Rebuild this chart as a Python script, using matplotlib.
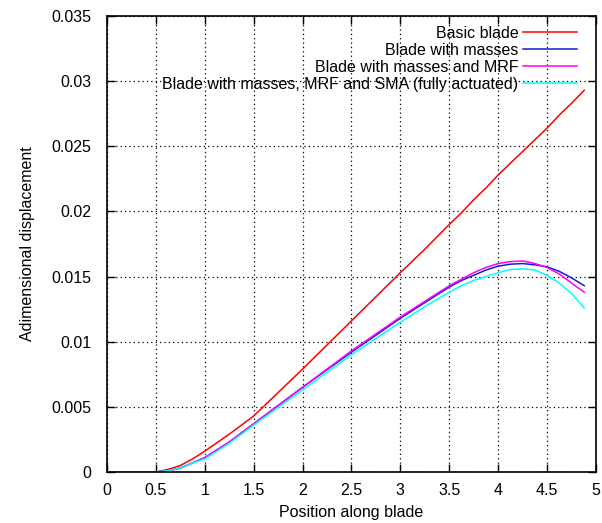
import numpy as np
import matplotlib
matplotlib.use('Agg')
import matplotlib.pyplot as plt
from matplotlib.ticker import MultipleLocator, FuncFormatter

plt.rcParams['font.family'] = ['Liberation Sans', 'DejaVu Sans']

# positions along blade
pos = [0, 0.25, 0.5, 0.625, 0.75, 0.875, 1.0, 1.25, 1.5, 2.0, 2.5, 3.0, 3.25, 3.5, 3.625, 3.75,
       3.875, 4.0, 4.125, 4.25, 4.375, 4.5, 4.625, 4.75, 4.88]

basic = [0, 0, 0, 0.0002, 0.0005, 0.0010, 0.0016, 0.0029, 0.0043, 0.0079, 0.0116, 0.0153, 0.0171,
         0.0190, 0.0199, 0.0209, 0.0218, 0.0228, 0.0237, 0.0246, 0.0255, 0.0264, 0.0274, 0.0283, 0.0293]
masses = [0, 0, 0, 0.0001, 0.0003, 0.0007, 0.0011, 0.0023, 0.0037, 0.0065, 0.0092, 0.0118, 0.0130,
          0.0142, 0.0147, 0.0151, 0.0155, 0.0158, 0.01595, 0.0160, 0.0159, 0.01575, 0.0154, 0.0149, 0.0143]
masses_mrf = [0, 0, 0, 0.0001, 0.0003, 0.0007, 0.0011, 0.0023, 0.0037, 0.0065, 0.0093, 0.0119, 0.0131,
              0.0143, 0.0148, 0.0153, 0.0157, 0.0160, 0.01615, 0.0162, 0.0160, 0.0157, 0.0152, 0.0145, 0.0138]
masses_mrf_sma = [0, 0, 0, 0.0001, 0.0003, 0.0007, 0.0010, 0.0022, 0.0036, 0.0063, 0.0090, 0.0115, 0.0127,
                  0.0138, 0.0143, 0.0147, 0.0150, 0.0153, 0.01555, 0.0156, 0.0155, 0.0151, 0.0145, 0.0137, 0.0126]

labels = ['Basic blade', 'Blade with masses', 'Blade with masses and MRF',
          'Blade with masses, MRF and SMA (fully actuated)']
colors = ['#ff0000', '#1a1ad0', '#ff00ff', '#00ffff']

fig = plt.figure(figsize=(6.02, 5.23), dpi=100)
ax = fig.add_axes([0.1777, 0.0975, 0.8123, 0.8719])

for ys, lab, c in zip([basic, masses, masses_mrf, masses_mrf_sma], labels, colors):
    ax.plot(pos, ys, color=c, lw=1.1, label=lab)

ax.set_xlim(0, 5)
ax.set_ylim(0, 0.035)
ax.xaxis.set_major_locator(MultipleLocator(0.5))
ax.yaxis.set_major_locator(MultipleLocator(0.005))
fmt = FuncFormatter(lambda v, p: '%g' % round(v, 6))
ax.xaxis.set_major_formatter(fmt)
ax.yaxis.set_major_formatter(fmt)
ax.tick_params(direction='in', top=True, right=True, length=6, width=1, labelsize=11.5)
ax.tick_params(axis='y', pad=11)
ax.tick_params(axis='x', pad=8)
ax.grid(True, color='black', linestyle=(0, (1, 2.5)), linewidth=0.9)
for s in ax.spines.values():
    s.set_linewidth(1.2)

ax.set_xlabel('Position along blade', fontsize=11.5, labelpad=5)
ax.set_ylabel('Adimensional displacement', fontsize=11.5, labelpad=12)

leg = ax.legend(loc='upper right', frameon=False, markerfirst=False, fontsize=11.5,
                handlelength=3.4, handletextpad=0.3, labelspacing=0.12, borderaxespad=0.3,
                bbox_to_anchor=(0.985, 1.003))
for t in leg.get_texts():
    t.set_ha('right')

fig.savefig('out.png', dpi=100)
